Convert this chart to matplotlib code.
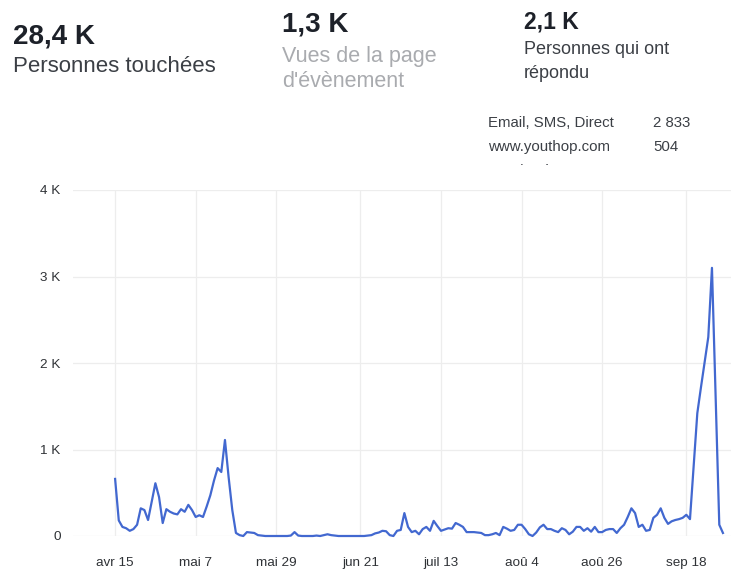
import matplotlib
matplotlib.use("Agg")
import matplotlib.pyplot as plt
from matplotlib.patches import Rectangle

# ---------------- data ----------------
# day offset from 15 April, daily values (people reached)
days = list(range(0, 167))
values = [
    660, 180, 105, 90, 60, 80, 130, 320, 300, 185,
    400, 610, 450, 150, 310, 280, 260, 250, 310, 280,
    360, 300, 220, 240, 220, 340, 470, 640, 785, 740,
    1110, 680, 300, 35, 10, 0, 45, 40, 35, 10,
    5, 0, 0, 0, 0, 0, 0, 0, 5, 45,
    5, 0, 0, 0, 0, 5, 0, 10, 20, 10,
    5, 0, 0, 0, 0, 0, 0, 0, 0, 5,
    10, 30, 40, 60, 55, 10, 0, 60, 70, 265,
    105, 45, 60, 20, 80, 105, 60, 175, 115, 60,
    75, 90, 85, 150, 130, 105, 45, 45, 45, 40,
    35, 10, 10, 20, 35, 10, 105, 85, 60, 70,
    130, 130, 80, 20, 0, 40, 100, 130, 80, 80,
    60, 45, 90, 70, 20, 50, 105, 105, 60, 90,
    50, 105, 45, 45, 70, 80, 80, 35, 90, 130,
    220, 320, 265, 105, 130, 60, 70, 210, 245, 320,
    210, 140, 170, 185, 195, 210, 245, 195, 800, 1420,
    1720, 2010, 2300, 3100, 1600, 130, 35,
]
tick_days = [0, 22, 44, 67, 89, 111, 133, 156]
tick_labels = ["avr 15", "mai 7", "mai 29", "jun 21", "juil 13", "aoû 4", "aoû 26", "sep 18"]
y_ticks = [0, 1000, 2000, 3000, 4000]
y_labels = ["0", "1 K", "2 K", "3 K", "4 K"]

kpi_values = ["28,4 K", "1,3 K", "2,1 K"]
kpi_labels = ["Personnes touchées", "Vues de la page\nd'évènement", "Personnes qui ont\nrépondu"]
src_names = ["Email, SMS, Direct", "www.youthop.com", "Facebook"]
src_counts = ["2 833", "504", "111"]

# ---------------- figure ----------------
plt.rcParams["font.family"] = ["Liberation Sans", "DejaVu Sans"]
W, H = 731, 570
fig = plt.figure(figsize=(W / 100, H / 100), dpi=100)
fig.patch.set_facecolor("white")

def fx(px):
    return px / W

def fy(py):
    return 1 - py / H

# axes: left 73px, right 731px, top (4K) 190px, bottom (0) 536px
ax = fig.add_axes([fx(73), fy(536), fx(731 - 73), (536 - 190) / H])
ax.plot(days, values, color="#4268d0", lw=1.6, solid_joinstyle="round", clip_on=False, zorder=3)
ax.set_xlim(-11.5, 168.2)
ax.set_ylim(0, 4000)
ax.set_xticks(tick_days)
ax.set_xticklabels(tick_labels)
ax.set_yticks(y_ticks)
ax.set_yticklabels(y_labels)
ax.tick_params(axis="both", length=0, labelsize=9.7, colors="#2f3236")
ax.tick_params(axis="x", pad=15)
ax.tick_params(axis="y", pad=9)
ax.grid(True, color="#ededed", lw=0.9)
for s in ax.spines.values():
    s.set_visible(False)
ax.set_axisbelow(True)

dark = "#1d2129"
mid = "#3b3f45"
gray = "#a9abaf"

# KPI block 1
fig.text(fx(13), fy(43), kpi_values[0], fontsize=20, fontweight="bold", color=dark, va="baseline")
fig.text(fx(13), fy(72), kpi_labels[0], fontsize=16, color=mid, va="baseline")
# KPI block 2
fig.text(fx(282), fy(31), kpi_values[1], fontsize=20, fontweight="bold", color=dark, va="baseline")
l1, l2 = kpi_labels[1].split("\n")
fig.text(fx(282), fy(62), l1, fontsize=15.5, color=gray, va="baseline")
fig.text(fx(282), fy(87), l2, fontsize=15.5, color=gray, va="baseline")
# KPI block 3
fig.text(fx(524), fy(29), kpi_values[2], fontsize=16.5, fontweight="bold", color=dark, va="baseline")
m1, m2 = kpi_labels[2].split("\n")
fig.text(fx(524), fy(54), m1, fontsize=13, color=mid, va="baseline")
fig.text(fx(524), fy(78), m2, fontsize=13, color=mid, va="baseline")

# sources table
row_base = [127, 151, 175]
for name, cnt, yb in zip(src_names, src_counts, row_base):
    fig.text(fx(488), fy(yb), name, fontsize=10.8, color=mid, va="baseline")
    fig.text(fx(653), fy(yb), cnt, fontsize=10.8, color=mid, va="baseline")

# mask that clips the third row (scrolling list cut-off)
fig.patches.append(Rectangle((fx(470), fy(186)), fx(260), (186 - 164.5) / H,
                             transform=fig.transFigure, facecolor="white",
                             edgecolor="none", zorder=10))

fig.savefig("out.png", dpi=100, facecolor="white")
